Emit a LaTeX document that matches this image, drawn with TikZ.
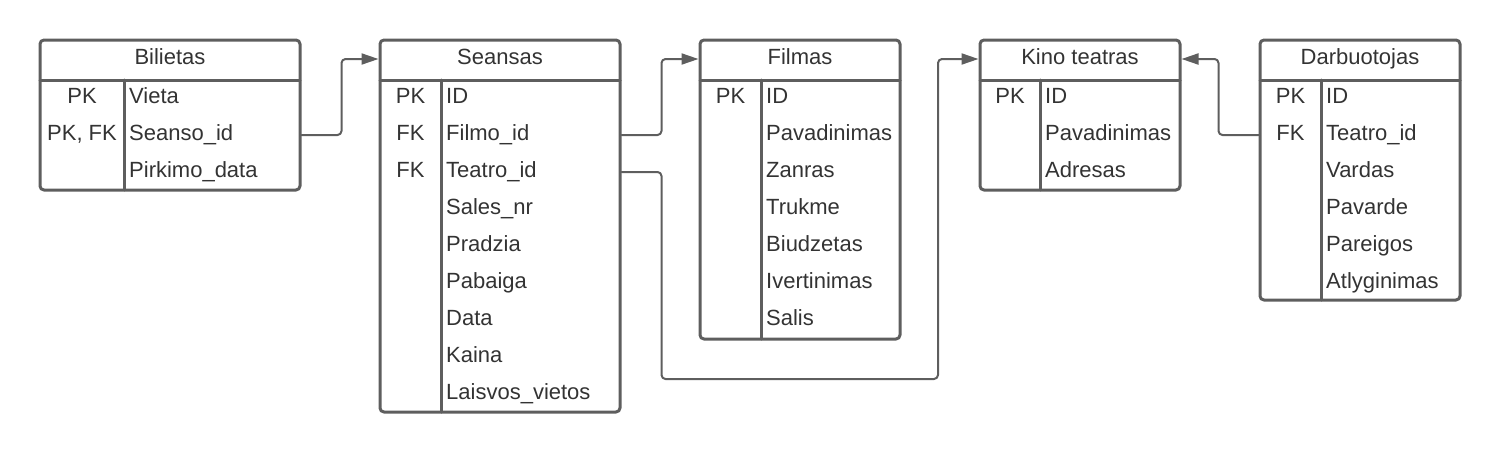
\documentclass[tikz,border=0pt]{standalone}
\usepackage{fontspec}
\setmainfont{Liberation Sans}
\usetikzlibrary{arrows.meta}
\definecolor{linegray}{HTML}{5E5E5E}
\definecolor{textgray}{HTML}{333333}

\begin{document}
\begin{tikzpicture}[x=1pt,y=-1pt,line cap=round,line join=round,
    table/.style={draw=linegray,line width=3pt,rounded corners=4pt,inner sep=0pt},
    rule/.style={draw=linegray,line width=3pt},
    field/.style={text=textgray,font=\fontsize{22}{26}\selectfont,inner sep=0pt,text height=16pt,text depth=5pt},
    link/.style={draw=linegray,line width=2pt,rounded corners=4pt,-{Triangle[length=17pt,width=11pt]}}]
  \useasboundingbox (0,0) rectangle (1500,453);

  % Bilietas
  \node[table,minimum width=260pt,minimum height=150pt] (bilietas) at (170,115) {};
  \draw[rule] (40,80) -- (300,80);
  \draw[rule] (124,80) -- (124,190);
  \node[field,anchor=base] (bil-title) at (170,64.5) {Bilietas};
  \node[field,anchor=base] (bil-k1) at (82,103.5) {PK};
  \node[field,anchor=base] (bil-k2) at (82,140.5) {PK, FK};
  \node[field,anchor=base west] (bil-f1) at (129,103.5) {Vieta};
  \node[field,anchor=base west] (bil-f2) at (129,140.5) {Seanso\_id};
  \node[field,anchor=base west] (bil-f3) at (129,177.5) {Pirkimo\_data};

  % Seansas
  \node[table,minimum width=240pt,minimum height=372pt] (seansas) at (500,226) {};
  \draw[rule] (380,80) -- (620,80);
  \draw[rule] (441,80) -- (441,412);
  \node[field,anchor=base] (sea-title) at (500,64.5) {Seansas};
  \node[field,anchor=base] (sea-k1) at (410.5,103.5) {PK};
  \node[field,anchor=base] (sea-k2) at (410.5,140.5) {FK};
  \node[field,anchor=base] (sea-k3) at (410.5,177.5) {FK};
  \node[field,anchor=base west] (sea-f1) at (446,103.5) {ID};
  \node[field,anchor=base west] (sea-f2) at (446,140.5) {Filmo\_id};
  \node[field,anchor=base west] (sea-f3) at (446,177.5) {Teatro\_id};
  \node[field,anchor=base west] (sea-f4) at (446,214.5) {Sales\_nr};
  \node[field,anchor=base west] (sea-f5) at (446,251.5) {Pradzia};
  \node[field,anchor=base west] (sea-f6) at (446,288.5) {Pabaiga};
  \node[field,anchor=base west] (sea-f7) at (446,325.5) {Data};
  \node[field,anchor=base west] (sea-f8) at (446,362.5) {Kaina};
  \node[field,anchor=base west] (sea-f9) at (446,399.5) {Laisvos\_vietos};

  % Filmas
  \node[table,minimum width=200pt,minimum height=299pt] (filmas) at (800,189.5) {};
  \draw[rule] (700,80) -- (900,80);
  \draw[rule] (761,80) -- (761,339);
  \node[field,anchor=base] (fil-title) at (800,64.5) {Filmas};
  \node[field,anchor=base] (fil-k1) at (730.5,103.5) {PK};
  \node[field,anchor=base west] (fil-f1) at (766,103.5) {ID};
  \node[field,anchor=base west] (fil-f2) at (766,140.5) {Pavadinimas};
  \node[field,anchor=base west] (fil-f3) at (766,177.5) {Zanras};
  \node[field,anchor=base west] (fil-f4) at (766,214.5) {Trukme};
  \node[field,anchor=base west] (fil-f5) at (766,251.5) {Biudzetas};
  \node[field,anchor=base west] (fil-f6) at (766,288.5) {Ivertinimas};
  \node[field,anchor=base west] (fil-f7) at (766,325.5) {Salis};

  % Kino teatras
  \node[table,minimum width=200pt,minimum height=150pt] (kino) at (1080,115) {};
  \draw[rule] (980,80) -- (1180,80);
  \draw[rule] (1040,80) -- (1040,190);
  \node[field,anchor=base] (kino-title) at (1080,64.5) {Kino teatras};
  \node[field,anchor=base] (kino-k1) at (1010,103.5) {PK};
  \node[field,anchor=base west] (kino-f1) at (1045,103.5) {ID};
  \node[field,anchor=base west] (kino-f2) at (1045,140.5) {Pavadinimas};
  \node[field,anchor=base west] (kino-f3) at (1045,177.5) {Adresas};

  % Darbuotojas
  \node[table,minimum width=200pt,minimum height=260pt] (darb) at (1360,170) {};
  \draw[rule] (1260,80) -- (1460,80);
  \draw[rule] (1321,80) -- (1321,300);
  \node[field,anchor=base] (darb-title) at (1360,64.5) {Darbuotojas};
  \node[field,anchor=base] (darb-k1) at (1290.5,103.5) {PK};
  \node[field,anchor=base] (darb-k2) at (1290.5,140.5) {FK};
  \node[field,anchor=base west] (darb-f1) at (1326,103.5) {ID};
  \node[field,anchor=base west] (darb-f2) at (1326,140.5) {Teatro\_id};
  \node[field,anchor=base west] (darb-f3) at (1326,177.5) {Vardas};
  \node[field,anchor=base west] (darb-f4) at (1326,214.5) {Pavarde};
  \node[field,anchor=base west] (darb-f5) at (1326,251.5) {Pareigos};
  \node[field,anchor=base west] (darb-f6) at (1326,288.5) {Atlyginimas};

  % Connectors
  \coordinate (theater-bend) at (938,379);
  \draw[link] (bilietas.east |- bil-f2) -- ++(40,0) |- (seansas.west |- sea-title);
  \draw[link] (seansas.east |- sea-f2) -- ++(40,0) |- (filmas.west |- fil-title);
  \draw[link] (seansas.east |- sea-f3) -- ++(40,0) |- (theater-bend) |- (kino.west |- kino-title);
  \draw[link] (darb.west |- darb-f2) -- ++(-40,0) |- (kino.east |- kino-title);
\end{tikzpicture}
\end{document}
